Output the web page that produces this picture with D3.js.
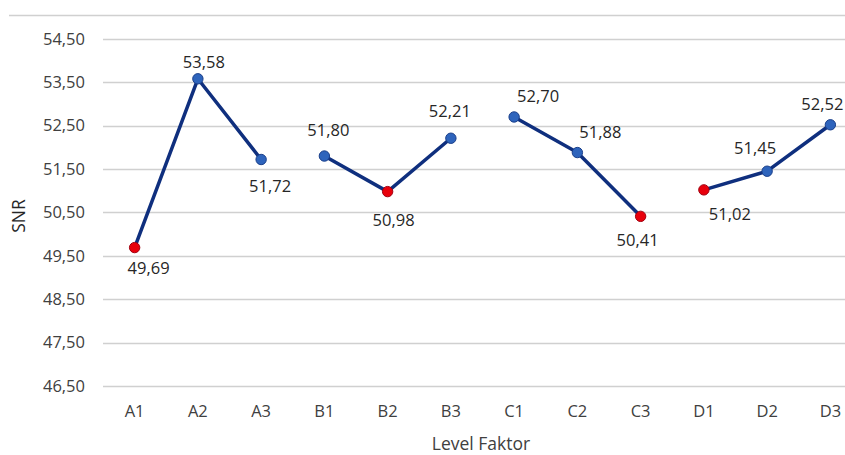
<!DOCTYPE html>
<html>
<head>
<meta charset="utf-8">
<script src="https://cdn.jsdelivr.net/npm/d3@7"></script>
<style>
  html, body { margin: 0; padding: 0; background: #fff; }
  svg { display: block; font-family: "Open Sans", "Noto Sans", sans-serif; }
</style>
</head>
<body>
<svg id="chart" width="845" height="455"></svg>
<script>
// Factor levels and their signal-to-noise ratios
const categories = ["A1","A2","A3","B1","B2","B3","C1","C2","C3","D1","D2","D3"];
const factors = ["A","B","C","D"];
const snrValues = [49.69, 53.58, 51.72, 51.80, 50.98, 52.21, 52.70, 51.88, 50.41, 51.02, 51.45, 52.52];
const yTicks = [46.5, 47.5, 48.5, 49.5, 50.5, 51.5, 52.5, 53.5, 54.5];
const yMin = 46.5, yMax = 55.05;
// Label placement around each marker (pixel nudges)
const labelDx = [14, 6, 9, 4, 6, -1, 24, 23, -3, 26, -12, -8];
const labelDy = [21, -17, 27, -26, 29, -27, -21, -20, 24, 24, -23, -21];

const svg = d3.select("#chart");
const margin = { left: 103, right: -17, top: 15, bottom: 69 };
const W = 845, H = 455;

const x = d3.scaleBand().domain(categories).range([margin.left, W - margin.right]).padding(0);
const y = d3.scaleLinear().domain([yMin, yMax]).range([H - margin.bottom, margin.top]);

const fmt = v => d3.format(".2f")(v).replace(".", ",");
const snap = v => Math.round(v) + 0.5;

// Gridlines
svg.append("g")
  .selectAll("line")
  .data(yTicks)
  .join("line")
  .attr("x1", margin.left).attr("x2", W)
  .attr("y1", d => snap(y(d))).attr("y2", d => snap(y(d)))
  .attr("stroke", "#d0d0d0").attr("stroke-width", 1.5);

// Top edge of the chart frame
svg.append("line")
  .attr("x1", 9).attr("x2", W)
  .attr("y1", snap(y(yMax))).attr("y2", snap(y(yMax)))
  .attr("stroke", "#d0d0d0").attr("stroke-width", 1.5);

// Y axis labels
const yAxis = d3.axisLeft(y).tickValues(yTicks).tickFormat(fmt).tickSize(0).tickPadding(18);
svg.append("g").attr("transform", `translate(${margin.left},0)`).call(yAxis)
  .call(g => g.select(".domain").remove())
  .selectAll("text").attr("fill", "#404040").style("font-size", "16.5px")
  .style("font-family", "'Open Sans', sans-serif");

// X axis labels
const xAxis = d3.axisBottom(x).tickSize(0).tickPadding(19);
svg.append("g").attr("transform", `translate(0,${y(yMin)})`).call(xAxis)
  .call(g => g.select(".domain").remove())
  .selectAll("text").attr("fill", "#404040").style("font-size", "16.5px")
  .style("font-family", "'Open Sans', sans-serif");

// Axis titles
svg.append("text").attr("x", 481).attr("y", 450).attr("text-anchor", "middle")
  .attr("fill", "#404040").style("font-size", "17.5px").text("Level Faktor");
svg.append("text").attr("transform", "translate(25,216) rotate(-90)").attr("text-anchor", "middle")
  .attr("fill", "#262626").style("font-size", "17.5px").text("SNR");

const points = categories.map((c, i) => ({ cat: c, factor: c[0], v: snrValues[i], i }));

// One line per factor
const line = d3.line().x(d => x(d.cat) + x.bandwidth() / 2).y(d => y(d.v));
factors.forEach(f => {
  const pts = points.filter(p => p.factor === f);
  svg.append("path").datum(pts).attr("d", line)
    .attr("fill", "none").attr("stroke", "#0f2f7e").attr("stroke-width", 3.5)
    .attr("stroke-linejoin", "round");
});

// Markers: lowest level of each factor in red
const minByFactor = {};
factors.forEach(f => {
  minByFactor[f] = d3.min(points.filter(p => p.factor === f), p => p.v);
});
svg.append("g").selectAll("circle").data(points).join("circle")
  .attr("cx", d => x(d.cat) + x.bandwidth() / 2)
  .attr("cy", d => y(d.v))
  .attr("r", 5.2)
  .attr("fill", d => d.v === minByFactor[d.factor] ? "#e8000b" : "#2e64bc")
  .attr("stroke", d => d.v === minByFactor[d.factor] ? "#a00010" : "#1a3f8a")
  .attr("stroke-width", 1);

// Value labels
svg.append("g").selectAll("text").data(points).join("text")
  .attr("x", d => x(d.cat) + x.bandwidth() / 2 + labelDx[d.i])
  .attr("y", d => y(d.v) + labelDy[d.i])
  .attr("dy", "0.35em")
  .attr("text-anchor", "middle")
  .attr("fill", "#262626").style("font-size", "16.5px")
  .text(d => fmt(d.v));
</script>
</body>
</html>
